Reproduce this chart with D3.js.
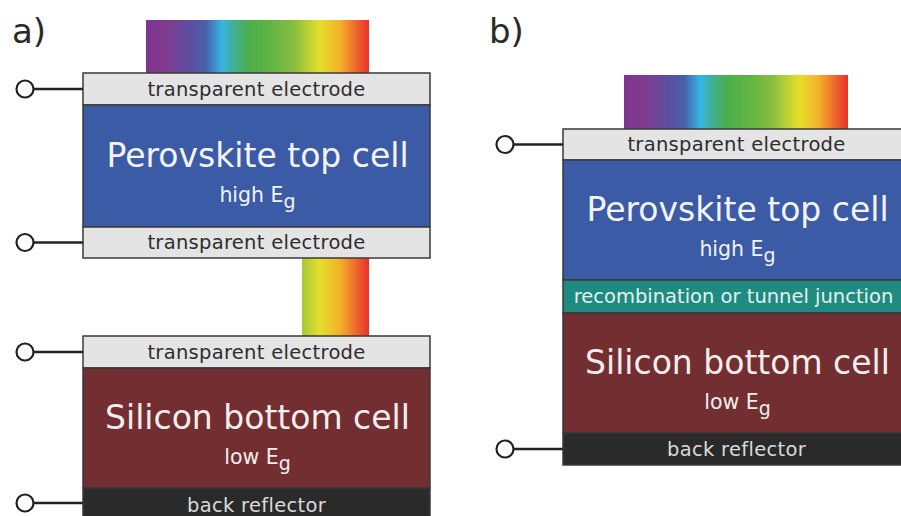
<!DOCTYPE html>
<html>
<head>
<meta charset="utf-8">
<script src="https://cdn.jsdelivr.net/npm/d3@7/dist/d3.min.js"></script>
<style>
  html, body { margin: 0; padding: 0; background: #fff; }
  svg { display: block; }
  text { font-family: "DejaVu Sans", Verdana, sans-serif; }
</style>
</head>
<body>
<svg id="chart" width="901" height="516"></svg>
<script>
// ---- data ----
const panelLabels = ["a)", "b)"];
const spectrumOffsets = [0, 0.08, 0.2, 0.27, 0.34, 0.39, 0.46, 0.56, 0.66, 0.78, 0.87, 0.94, 1];
const spectrumColors = ["#7d3590", "#823a8e", "#5b4fa0", "#4760aa", "#36b5e6", "#3fb09a", "#4bae4b", "#62b444", "#86bd40", "#e6df2a", "#f5b02a", "#ee6a2c", "#e8302c"];
const layersTopA = ["transparent electrode", "Perovskite top cell", "transparent electrode"];
const layersBottomA = ["transparent electrode", "Silicon bottom cell", "back reflector"];
const layersB = ["transparent electrode", "Perovskite top cell", "recombination or tunnel junction", "Silicon bottom cell", "back reflector"];
const bandgapWords = ["high", "low"];

// ---- styles per layer type ----
const style = {
  "transparent electrode": { fill: "#e4e4e4", text: "#2e2e2e", size: 19.5, ls: 0.3, kind: "thin" },
  "Perovskite top cell": { fill: "#3c5ba6", text: "#f2f4f8", size: 33, kind: "cell", sub: bandgapWords[0] },
  "Silicon bottom cell": { fill: "#722e30", text: "#f3eded", size: 33, kind: "cell", sub: bandgapWords[1] },
  "recombination or tunnel junction": { fill: "#1f8a80", text: "#e2f2ef", size: 19.5, ls: 0, kind: "thin" },
  "back reflector": { fill: "#2a2a2a", text: "#dadada", size: 19.5, ls: 0.3, kind: "thin" }
};

const svg = d3.select("#chart");
const defs = svg.append("defs");

function gradient(id, x1, x2) {
  const g = defs.append("linearGradient").attr("id", id)
    .attr("gradientUnits", "userSpaceOnUse")
    .attr("x1", x1).attr("x2", x2).attr("y1", 0).attr("y2", 0);
  g.selectAll("stop").data(spectrumOffsets).join("stop")
    .attr("offset", d => d)
    .attr("stop-color", (d, i) => spectrumColors[i]);
}

// layout (pixel geometry)
const boxW = 347;
const panels = [
  { label: panelLabels[0], lx: 12, ly: 43, x: 83, grad: "gA", gx: [146, 369],
    beams: [[146, 369, 20, 73], [302, 369, 258, 336]],
    stacks: [
      { layers: layersTopA, ys: [73, 105, 227, 258], wires: [0, 2] },
      { layers: layersBottomA, ys: [336, 368, 488, 522], wires: [0, 2] }
    ] },
  { label: panelLabels[1], lx: 489, ly: 43, x: 563, grad: "gB", gx: [624, 848],
    beams: [[624, 848, 75, 129]],
    stacks: [
      { layers: layersB, ys: [129, 160, 280, 313, 433, 465], wires: [0, 4] }
    ] }
];

panels.forEach(p => {
  gradient(p.grad, p.gx[0], p.gx[1]);
  const xs = d3.scaleLinear().domain([0, 1]).range([p.x, p.x + boxW]);
  const g = svg.append("g");

  g.append("text").attr("x", p.lx).attr("y", p.ly)
    .attr("font-size", 34).attr("fill", "#2a2a2a").text(p.label);

  g.selectAll("rect.beam").data(p.beams).join("rect").attr("class", "beam")
    .attr("x", d => d[0]).attr("y", d => d[2])
    .attr("width", d => d[1] - d[0]).attr("height", d => d[3] - d[2])
    .attr("fill", `url(#${p.grad})`);

  p.stacks.forEach(s => {
    const sg = g.append("g");
    const items = s.layers.map((name, i) => ({ name, y0: s.ys[i], y1: s.ys[i + 1] }));
    sg.selectAll("rect.layer").data(items).join("rect").attr("class", "layer")
      .attr("x", xs(0)).attr("width", xs(1) - xs(0))
      .attr("y", d => d.y0).attr("height", d => d.y1 - d.y0)
      .attr("fill", d => style[d.name].fill)
      .attr("stroke", "#3a3a3a").attr("stroke-width", 1.5);

    const cx = (xs(0) + xs(1)) / 2;
    items.forEach(d => {
      const st = style[d.name];
      const cy = (d.y0 + d.y1) / 2;
      if (st.kind === "thin") {
        sg.append("text").attr("x", cx - (st.ls === 0 ? 3 : 0)).attr("y", cy + 6.5)
          .attr("text-anchor", "middle").attr("font-size", st.size)
          .attr("letter-spacing", st.ls)
          .attr("fill", st.text).text(d.name);
      } else {
        sg.append("text").attr("x", cx + 1).attr("y", cy + 1)
          .attr("text-anchor", "middle").attr("font-size", st.size)
          .attr("fill", st.text).text(d.name);
        const t = sg.append("text").attr("x", cx + 1).attr("y", cy + 36)
          .attr("text-anchor", "middle").attr("font-size", 20.5).attr("fill", st.text);
        t.append("tspan").text(st.sub + " E");
        t.append("tspan").attr("font-size", 19).attr("dy", 6).text("g");
      }
    });

    // wires
    s.wires.forEach(i => {
      const d = items[i];
      const wy = Math.min((d.y0 + d.y1) / 2, 503);
      sg.append("line").attr("x1", p.x - 49).attr("x2", p.x).attr("y1", wy).attr("y2", wy)
        .attr("stroke", "#222").attr("stroke-width", 2.5);
      sg.append("circle").attr("cx", p.x - 58).attr("cy", wy).attr("r", 8.5)
        .attr("fill", "#fff").attr("stroke", "#222").attr("stroke-width", 2.2);
    });
  });
});
</script>
</body>
</html>
